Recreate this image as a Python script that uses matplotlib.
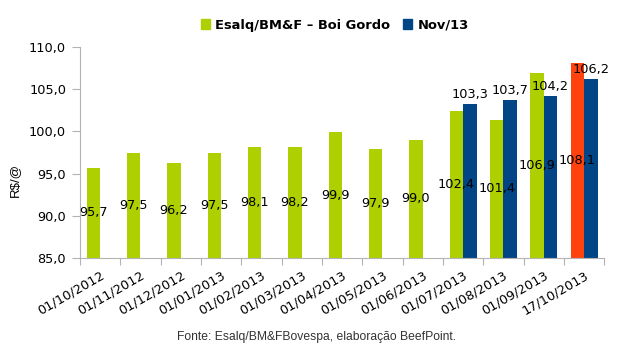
import matplotlib.pyplot as plt
from matplotlib.patches import Patch
import numpy as np

dates = ['01/10/2012', '01/11/2012', '01/12/2012', '01/01/2013', '01/02/2013',
         '01/03/2013', '01/04/2013', '01/05/2013', '01/06/2013', '01/07/2013',
         '01/08/2013', '01/09/2013', '17/10/2013']
boi_gordo = [95.7, 97.5, 96.2, 97.5, 98.1, 98.2, 99.9, 97.9, 99.0, 102.4, 101.4, 106.9, 108.1]
nov13 = [None] * 9 + [103.3, 103.7, 104.2, 106.2]

green = '#aecf00'
blue = '#004586'
red = '#ff420e'
grey = '#b3b3b3'

def fmt(v):
    return ('%.1f' % v).replace('.', ',')

fig = plt.figure(figsize=(6.3, 3.49), dpi=100)
ax = fig.add_axes([0.127, 0.261, 0.832, 0.604])

x = np.arange(len(dates))
w = 0.335
base = 85.0

for i, v in enumerate(boi_gordo):
    c = red if i == len(dates) - 1 else green
    ax.bar(x[i] - w / 2, v - base, w, bottom=base, color=c, linewidth=0)
    ax.text(x[i] - w / 2, (base + v) / 2, fmt(v), ha='center', va='center',
            fontsize=9.3, family='DejaVu Sans')

for i, v in enumerate(nov13):
    if v is None:
        continue
    ax.bar(x[i] + w / 2, v - base, w, bottom=base, color=blue, linewidth=0)
    ax.text(x[i] + w / 2, v + 0.35, fmt(v), ha='center', va='bottom',
            fontsize=9.3, family='DejaVu Sans')

ax.set_xlim(-0.5, len(dates) - 0.5)
ax.set_ylim(85, 110)
ax.set_yticks(np.arange(85, 110.1, 5))
ax.set_yticklabels([fmt(t) for t in np.arange(85, 110.1, 5)], fontsize=9.3, family='DejaVu Sans')

# tick marks between categories, labels at the category centres
ax.set_xticks(np.arange(-0.5, len(dates), 1.0))
ax.set_xticklabels([])
ax.set_xticks(x, minor=True)
ax.set_xticklabels(dates, minor=True, rotation=30, ha='right', rotation_mode='anchor',
                   fontsize=9.3, family='DejaVu Sans')
ax.tick_params(axis='x', which='minor', length=0, pad=8)
ax.tick_params(axis='x', which='major', length=5, color=grey)
ax.tick_params(axis='y', length=6, color=grey, pad=4)

for s in ['top', 'right']:
    ax.spines[s].set_visible(False)
for s in ['left', 'bottom']:
    ax.spines[s].set_color(grey)

ax.set_ylabel('R$/@', fontsize=9.5, family='Liberation Sans')
ax.yaxis.set_label_coords(-0.112, 0.37)

handles = [Patch(color=green), Patch(color=blue)]
fig.legend(handles, ['Esalq/BM&F – Boi Gordo', 'Nov/13'], loc='center',
           bbox_to_anchor=(0.531, 0.928), ncol=2, frameon=False,
           prop={'family': 'DejaVu Sans', 'weight': 'bold', 'size': 9.4},
           handlelength=0.7, handleheight=0.7, handletextpad=0.4, columnspacing=1.0)

fig.text(0.503, 0.035, 'Fonte: Esalq/BM&FBovespa, elaboração BeefPoint.', ha='center',
         va='center', fontsize=8.75, family='Liberation Sans', color='#333333')

fig.savefig('out.png', dpi=100)
